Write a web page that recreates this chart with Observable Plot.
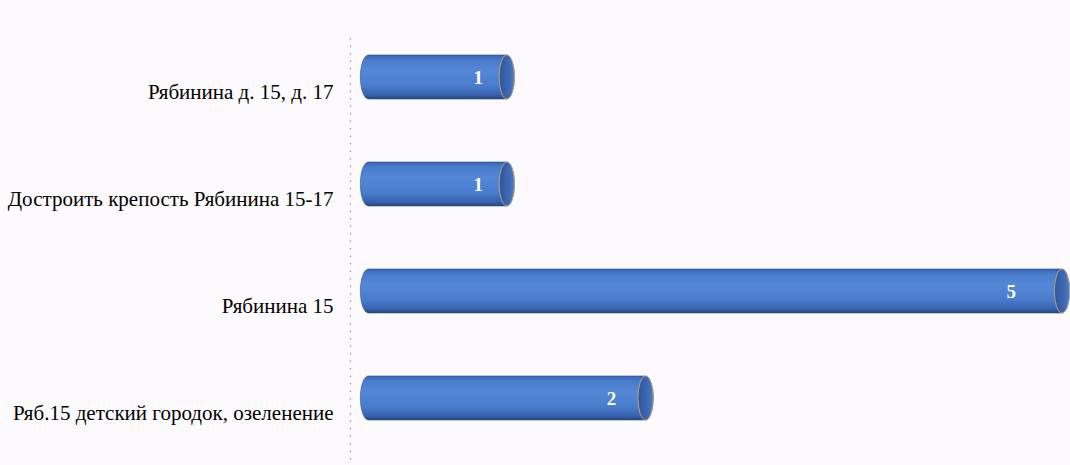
<!DOCTYPE html>
<html><head><meta charset="utf-8">
<script src="https://cdn.jsdelivr.net/npm/d3@7"></script>
<script src="https://cdn.jsdelivr.net/npm/@observablehq/plot@0.6"></script>
<style>
html,body{margin:0;padding:0;background:#fcfafd;}
#chart svg{display:block;}
</style></head>
<body><div id="chart"></div>
<script>
const categories = ["Рябинина д. 15, д. 17", "Достроить крепость Рябинина 15-17", "Рябинина 15", "Ряб.15 детский городок, озеленение"];
const values = [1, 1, 5, 2];

const data = categories.map((c, i) => ({cat: c, v: values[i]}));
const cap = 0.055;   // half-width of cylinder end caps, in value units

const plot = Plot.plot({
  width: 1070, height: 465,
  marginLeft: 368, marginRight: 8, marginTop: 30, marginBottom: 21,
  style: {background: "#fcfafd", fontFamily: "'Liberation Serif', 'Times New Roman', serif"},
  x: {domain: [0, 5], axis: null},
  y: {domain: categories, paddingInner: 0.59, paddingOuter: 0.224, label: null},
  marks: [
    Plot.ruleX([-0.13], {stroke: "#9a96a0", strokeDasharray: "1.5,6", strokeWidth: 1.2, insetTop: 8, insetBottom: -21}),
    Plot.axisY({tickSize: 0, tickPadding: 35, dy: 15, fontSize: 21, fill: "#000", label: null}),
    Plot.barX(data, {y: "cat", x1: -cap, x2: d => d.v + cap, fill: "url(#cyl)", rx: 8, ry: 22, stroke: "#2d4f8c", strokeWidth: 0.6}),
    Plot.barX(data, {y: "cat", x1: d => d.v - cap, x2: d => d.v + cap, fill: "url(#capg)", rx: 8, ry: 22, stroke: "#b9a07f", strokeWidth: 1}),
    Plot.text(data, {y: "cat", x: d => d.v * 0.96 - 0.17, text: d => String(d.v), fill: "white", fontWeight: "bold", fontSize: 19, textAnchor: "middle"})
  ]
});

const svg = d3.select(plot);
const defs = svg.insert("defs", ":first-child");
const g1 = defs.append("linearGradient").attr("id", "cyl").attr("x1", 0).attr("y1", 0).attr("x2", 0).attr("y2", 1);
[[0, "#3564b4"], [0.12, "#4a7ccc"], [0.35, "#5488d6"], [0.7, "#4a7ccd"], [0.9, "#3763b0"], [1, "#27467f"]]
  .forEach(([o, c]) => g1.append("stop").attr("offset", o).attr("stop-color", c));
const g2 = defs.append("linearGradient").attr("id", "capg").attr("x1", 0).attr("y1", 0).attr("x2", 1).attr("y2", 0);
[[0, "#2f5598"], [0.6, "#3d68b2"], [1, "#4d7bc4"]]
  .forEach(([o, c]) => g2.append("stop").attr("offset", o).attr("stop-color", c));

document.getElementById("chart").appendChild(plot);
</script>
</body></html>
